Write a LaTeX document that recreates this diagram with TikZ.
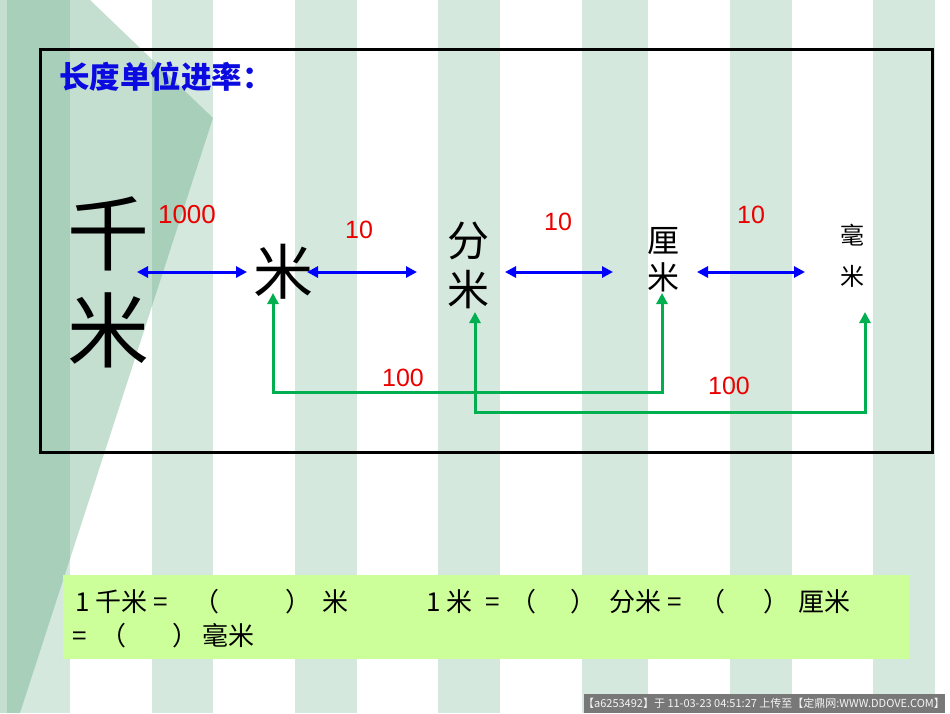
\documentclass[tikz,border=0pt]{standalone}
\usepackage{fontspec}
\usepackage{xcolor}
\setmainfont{Liberation Sans}
\newfontfamily\cjk{Noto Sans CJK SC}
\usetikzlibrary{calc,arrows.meta}
\definecolor{stripegreen}{RGB}{213,232,222}
\definecolor{fadegreen}{RGB}{86,161,121}
\definecolor{titleblue}{RGB}{10,10,225}
\definecolor{numred}{RGB}{235,0,0}
\definecolor{linkgreen}{RGB}{0,176,80}
\definecolor{notelime}{RGB}{204,255,153}
\definecolor{markgray}{RGB}{120,120,120}

\begin{document}
\begin{tikzpicture}[x=1pt,y=-1pt]
    \tikzstyle{every node}=[inner sep=0pt,outer sep=0pt]
    \tikzstyle{unit}=[font=\cjk,align=center]
    \tikzstyle{num}=[text=numred]
    \tikzstyle{step10}=[draw=blue,line width=3pt,{Triangle[length=11pt,width=11pt]}-{Triangle[length=11pt,width=11pt]}]
    \tikzstyle{step100}=[draw=linkgreen,line width=3pt,{Triangle[length=11pt,width=11pt]}-{Triangle[length=11pt,width=11pt]}]
    \useasboundingbox (0,0) rectangle (950,713);

    \fill[white] (0,0) rectangle (950,713);
    \foreach \x/\w in {7/63,152/61,295/62,438/62,582/66,730/62,873/62}
        \fill[stripegreen] (\x,0) rectangle ++(\w,713);
    \fill[fadegreen,opacity=0.35] (0,0) -- (90,0) -- (213,118) -- (20,713) -- (0,713) -- cycle;

    \draw[line width=3pt] (40,49) rectangle (932,452);
    \node[anchor=west,font=\cjk\bfseries\fontsize{30.5}{34}\selectfont,text=titleblue] (0) at (59,77) {长度单位进率：};

    \node[unit,font=\cjk\fontsize{82}{97}\selectfont] (11) at (108,282) {千\\米};
    \node[unit,font=\cjk\fontsize{60}{70}\selectfont] (12) at (283,272) {米};
    \node[unit,font=\cjk\fontsize{42}{49}\selectfont] (13) at (468,265) {分\\米};
    \node[unit,font=\cjk\fontsize{32}{37}\selectfont] (14) at (663,260) {厘\\米};
    \node[unit,font=\cjk\fontsize{24}{41}\selectfont] (15) at (852,256) {毫\\米};

    \coordinate (21) at (137,272);
    \coordinate (22) at (247,272);
    \coordinate (23) at (307,272);
    \coordinate (24) at (417,272);
    \coordinate (25) at (505,272);
    \coordinate (26) at (613,272);
    \coordinate (27) at (697,272);
    \coordinate (28) at (805,272);
    \draw[step10] (21) -- (22);
    \draw[step10] (23) -- (24);
    \draw[step10] (25) -- (26);
    \draw[step10] (27) -- (28);

    \coordinate (31) at (273,293);
    \coordinate (32) at (662,293);
    \coordinate (33) at (475,312);
    \coordinate (34) at (865,312);
    \draw[step100] (31) |- ($(32)+(0,99)$) -- (32);
    \draw[step100] (33) |- ($(34)+(0,100)$) -- (34);

    \node[num,font=\fontsize{26}{30}\selectfont] (41) at (187,215) {1000};
    \node[num,font=\fontsize{25}{30}\selectfont] (42) at (359,230) {10};
    \node[num,font=\fontsize{25}{30}\selectfont] (43) at (558,222) {10};
    \node[num,font=\fontsize{25}{30}\selectfont] (44) at (751,215) {10};
    \node[num,font=\fontsize{25}{30}\selectfont] (45) at (403,378) {100};
    \node[num,font=\fontsize{25}{30}\selectfont] (46) at (729,386) {100};

    \fill[notelime] (63,575) rectangle (909,659);
    \node[anchor=west,font=\cjk\fontsize{26}{30}\selectfont] (51) at (75,602)
        {1 千米 =\hspace{26pt}（\hspace{66pt}）\hspace{11pt}米};
    \node[anchor=west,font=\cjk\fontsize{26}{30}\selectfont] (52) at (426,602)
        {1 米\hspace{13pt}=\hspace{11pt}（\hspace{34pt}）\hspace{13pt}分米 =\hspace{18pt}（\hspace{38pt}）\hspace{9pt}厘米};
    \node[anchor=west,font=\cjk\fontsize{26}{30}\selectfont] (53) at (72,636)
        {=\hspace{14pt}（\hspace{46pt}）\hspace{4pt}毫米};

    \fill[markgray] (584,694) rectangle (945,713);
    \node[font=\cjk\fontsize{11}{12}\selectfont,text=white!92!gray] (61) at (764,703.5)
        {【a6253492】于 11-03-23 04:51:27 上传至【定鼎网:WWW.DDOVE.COM】};
\end{tikzpicture}
\end{document}
